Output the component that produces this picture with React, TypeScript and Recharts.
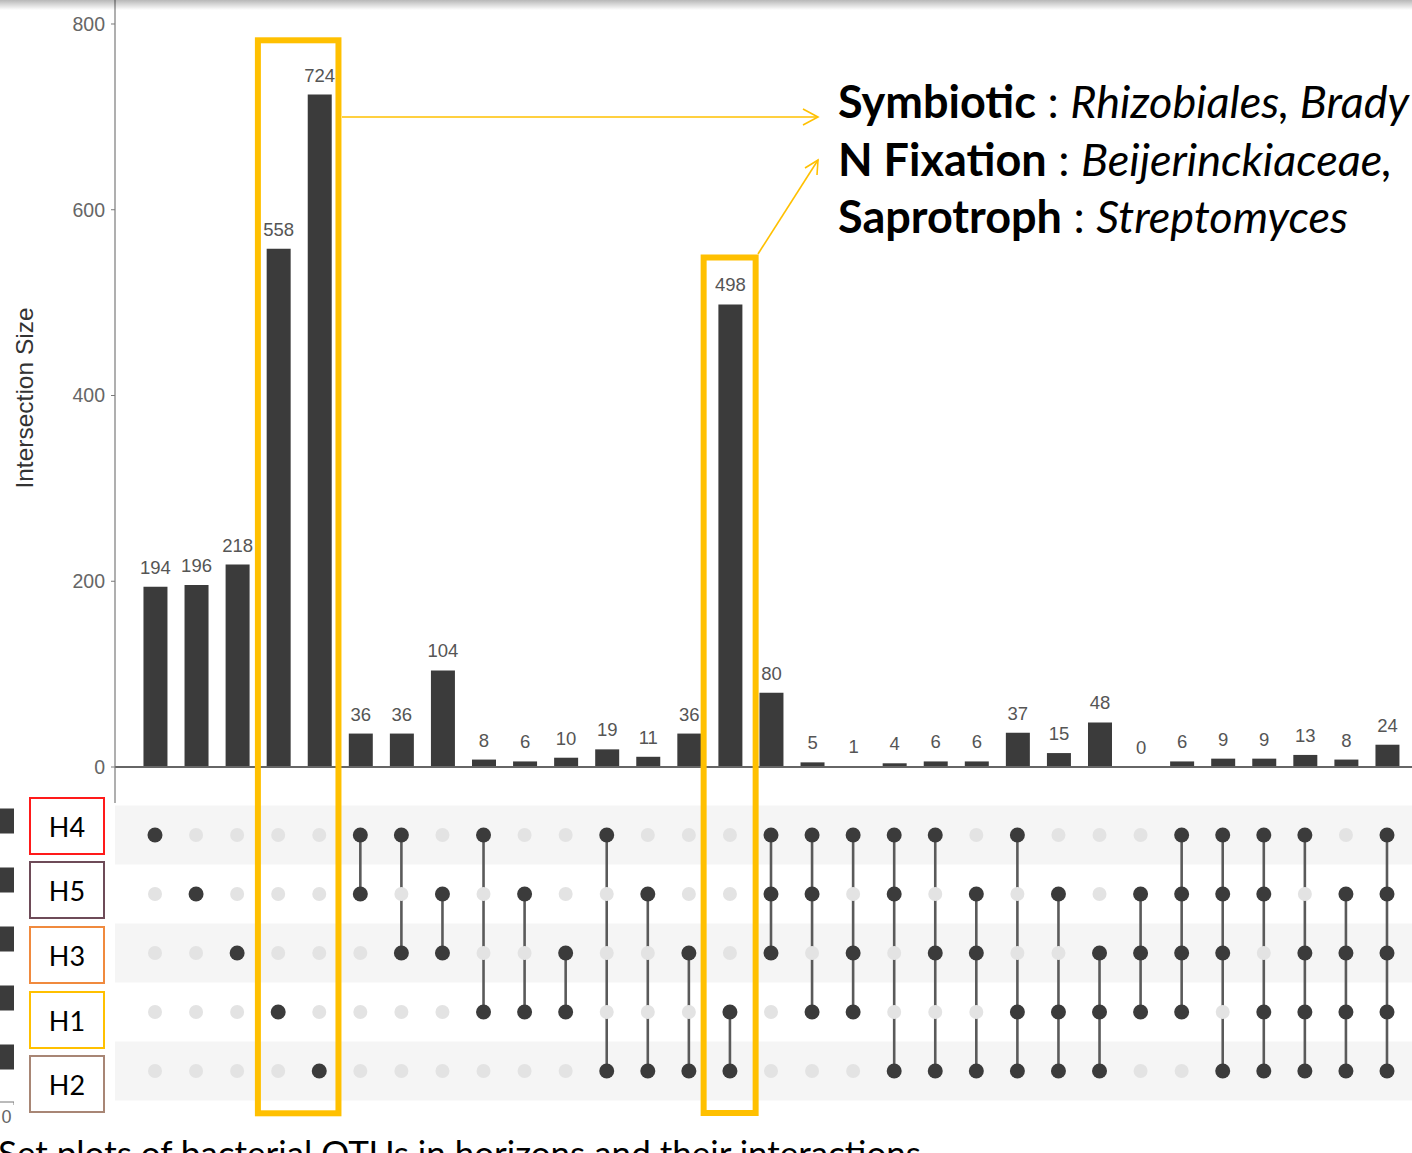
import React from 'react';
import {
  BarChart, Bar, XAxis, YAxis, LabelList, ReferenceLine, ReferenceArea,
  ScatterChart, Scatter,
} from 'recharts';

// sets, top to bottom in the matrix
const setNames = ['H4', 'H5', 'H3', 'H1', 'H2'];
const setBorder = ['#ff1a1a', '#6e4b58', '#f08a3e', '#ffc000', '#a88675'];
// set sizes are cut off at the left edge, rough guess
const setSizes = [487, 520, 610, 1250, 1080];

const intersectionSizes = [194, 196, 218, 558, 724, 36, 36, 104, 8, 6, 10, 19, 11, 36, 498, 80, 5, 1, 4, 6, 6, 37, 15, 48, 0, 6, 9, 9, 13, 8, 24];
const intersectionSets = [
  ['H4'], ['H5'], ['H3'], ['H1'], ['H2'],
  ['H4', 'H5'], ['H4', 'H3'], ['H5', 'H3'], ['H4', 'H1'], ['H5', 'H1'], ['H3', 'H1'],
  ['H4', 'H2'], ['H5', 'H2'], ['H3', 'H2'], ['H1', 'H2'],
  ['H4', 'H5', 'H3'], ['H4', 'H5', 'H1'], ['H4', 'H3', 'H1'], ['H4', 'H5', 'H2'], ['H4', 'H3', 'H2'],
  ['H5', 'H3', 'H2'], ['H4', 'H1', 'H2'], ['H5', 'H1', 'H2'], ['H3', 'H1', 'H2'], ['H5', 'H3', 'H1'],
  ['H4', 'H5', 'H3', 'H1'], ['H4', 'H5', 'H3', 'H2'], ['H4', 'H5', 'H1', 'H2'], ['H4', 'H3', 'H1', 'H2'], ['H5', 'H3', 'H1', 'H2'],
  ['H4', 'H5', 'H3', 'H1', 'H2'],
];
const yTicks = [0, 200, 400, 600, 800];

const X_DOMAIN: [number, number] = [-0.974, 30.609];
const AXIS_FONT = '"Liberation Sans", Arial, sans-serif';
const TEXT_FONT = 'Lato, "Open Sans", sans-serif';
const DARK = '#3b3b3b';

const barData = intersectionSizes.map((v, i) => ({ idx: i, value: v }));

const dotsOn: { x: number; y: number }[] = [];
const dotsOff: { x: number; y: number }[] = [];
intersectionSets.forEach((s, i) => {
  setNames.forEach((name, r) => {
    (s.includes(name) ? dotsOn : dotsOff).push({ x: i, y: r });
  });
});
const links = intersectionSets
  .map((s, i) => {
    const rows = s.map((n) => setNames.indexOf(n));
    return { x: i, lo: Math.min(...rows), hi: Math.max(...rows) };
  })
  .filter((l) => l.hi > l.lo);

const setData = setSizes.map((v, r) => ({ row: r, size: v }));

// pixel helper for the hand drawn annotations (boxes/arrows)
const colX = (i: number) => 155 + 41.067 * i;

const Dot = (fill: string, r: number) => (props: any) =>
  <circle cx={props.cx} cy={props.cy} r={r} fill={fill} />;

export default function App() {
  return (
    <div style={{ position: 'absolute', left: 0, top: 0, width: 1412, height: 1153, overflow: 'hidden', background: '#fff' }}>
      {/* intersection size bars */}
      <div style={{ position: 'absolute', left: 0, top: 0 }}>
        <BarChart width={1412} height={803} data={barData} margin={{ top: 0, right: 0, bottom: 0, left: 0 }}>
          <XAxis dataKey="idx" type="number" domain={X_DOMAIN} hide />
          <YAxis
            type="number"
            domain={[-38.76, 825.84]}
            ticks={yTicks}
            width={115}
            tickSize={4}
            tickMargin={6}
            axisLine={{ stroke: '#7a7a7a', strokeWidth: 1.2 }}
            tickLine={{ stroke: '#7a7a7a' }}
            tick={{ fill: '#666', fontSize: 19.5, fontFamily: AXIS_FONT }}
          />
          <Bar dataKey="value" fill={DARK} barSize={24} minPointSize={0.5} isAnimationActive={false}>
            <LabelList dataKey="value" position="top" offset={13} fill="#555" fontSize={18.5} fontFamily={AXIS_FONT} />
          </Bar>
          <ReferenceLine y={0} stroke="#666" strokeWidth={2} />
        </BarChart>
      </div>

      {/* membership matrix */}
      <div style={{ position: 'absolute', left: 0, top: 790 }}>
        <ScatterChart width={1412} height={330} margin={{ top: 0, right: 0, bottom: 0, left: 115 }}>
          <XAxis dataKey="x" type="number" domain={X_DOMAIN} hide />
          <YAxis dataKey="y" type="number" domain={[-0.7627, 4.8305]} reversed hide />
          {[0, 2, 4].map((r) => (
            <ReferenceArea key={r} y1={r - 0.5} y2={r + 0.5} fill="#f5f5f5" fillOpacity={1} stroke="none" />
          ))}
          {links.map((l) => (
            <ReferenceLine key={l.x} segment={[{ x: l.x, y: l.lo }, { x: l.x, y: l.hi }]} stroke="#5a5a5a" strokeWidth={2.6} />
          ))}
          <Scatter data={dotsOff} shape={Dot('#e3e3e3', 7)} isAnimationActive={false} />
          <Scatter data={dotsOn} shape={Dot(DARK, 7.5)} isAnimationActive={false} />
        </ScatterChart>
      </div>

      {/* set size bars, mostly cut off */}
      <div style={{ position: 'absolute', left: -200, top: 790 }}>
        <BarChart layout="vertical" width={214} height={342} data={setData} margin={{ top: 0, right: 0, bottom: 0, left: 0 }}>
          <XAxis
            type="number"
            domain={[0, 800]}
            reversed
            ticks={[0]}
            height={30}
            tickSize={3}
            axisLine={{ stroke: '#777' }}
            tickLine={{ stroke: '#777' }}
            tick={{ fill: '#666', fontSize: 18, fontFamily: AXIS_FONT, dx: -3, dy: 3 }}
          />
          <YAxis dataKey="row" type="number" domain={[-0.7627, 4.5254]} reversed hide />
          <Bar dataKey="size" fill={DARK} barSize={25} isAnimationActive={false} />
        </BarChart>
      </div>

      {/* set labels */}
      {setNames.map((n, r) => (
        <div
          key={n}
          style={{
            position: 'absolute', left: 29, top: [797, 861, 926, 991, 1055][r], width: 72, height: 54,
            border: `2px solid ${setBorder[r]}`, background: '#fff',
            display: 'flex', alignItems: 'center', justifyContent: 'center',
            fontFamily: TEXT_FONT, fontSize: 27, color: '#000',
          }}
        >
          {n}
        </div>
      ))}

      {/* annotations */}
      <svg width={1412} height={1153} style={{ position: 'absolute', left: 0, top: 0, pointerEvents: 'none' }}>
        <defs>
          <linearGradient id="topShade" x1="0" y1="0" x2="0" y2="1">
            <stop offset="0%" stopColor="#000" stopOpacity={0.28} />
            <stop offset="100%" stopColor="#000" stopOpacity={0} />
          </linearGradient>
        </defs>
        <rect x={0} y={0} width={1412} height={10} fill="url(#topShade)" />

        <text
          x={33} y={398} transform="rotate(-90, 33, 398)" textAnchor="middle"
          fontFamily={AXIS_FONT} fontSize={24.5} fill="#333"
        >
          Intersection Size
        </text>

        <rect x={colX(3) - 20.3} y={40.3} width={colX(4) - colX(3) + 39.5} height={1073} fill="none" stroke="#ffc000" strokeWidth={6} />
        <rect x={colX(14) - 26.3} y={257.5} width={52} height={855.5} fill="none" stroke="#ffc000" strokeWidth={6} />

        <g stroke="#ffc000" strokeWidth={1.6} fill="none">
          <line x1={342} y1={117} x2={818} y2={117} />
          <polyline points="803,109 818,117 803,125" />
          <line x1={758} y1={254} x2={818} y2={160} />
          <polyline points="805,168 818,160 817,175" />
        </g>

        <g fontFamily={TEXT_FONT} fontSize={45} fill="#000">
          <text x={838} y={118}>
            <tspan fontWeight={700}>Symbiotic</tspan>
            <tspan> : </tspan>
            <tspan fontStyle="italic">Rhizobiales, Brady</tspan>
          </text>
          <text x={838} y={176}>
            <tspan fontWeight={700}>N Fixation</tspan>
            <tspan> : </tspan>
            <tspan fontStyle="italic">Beijerinckiaceae,</tspan>
          </text>
          <text x={838} y={233}>
            <tspan fontWeight={700}>Saprotroph</tspan>
            <tspan> : </tspan>
            <tspan fontStyle="italic">Streptomyces</tspan>
          </text>
        </g>

        <text x={-2} y={1166} fontFamily={TEXT_FONT} fontSize={35} fill="#000">
          Set plots of bacterial OTUs in horizons and their interactions
        </text>
      </svg>
    </div>
  );
}
